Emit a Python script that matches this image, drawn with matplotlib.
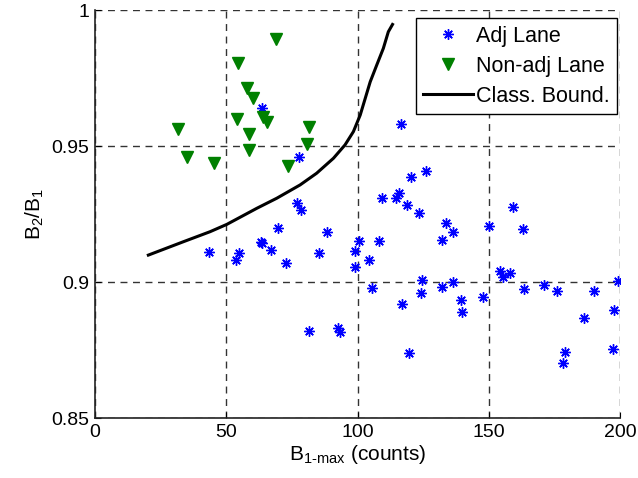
import numpy as np
import matplotlib
matplotlib.use('Agg')
import matplotlib.pyplot as plt

# adjacent lane samples (B1-max, B2/B1)
adj_x = [63.5, 116.5, 77.8, 126.1, 120.4, 109.2, 114.5, 115.9, 118.7, 123.5,
         77.1, 78.3, 133.5, 136.3, 132.2, 150.2, 159.1, 162.9, 154.3, 155.3,
         158.1, 163.2, 171.0, 175.9, 190.2, 199.0, 186.4, 197.5, 179.0, 178.4,
         197.1, 124.5, 124.1, 132.2, 136.3, 139.4, 139.9, 147.9, 116.8, 119.6,
         43.4, 55.0, 53.7, 63.2, 63.7, 69.5, 67.0, 72.6, 88.5, 85.3,
         100.7, 99.0, 99.0, 104.4, 108.3, 105.6, 81.5, 92.7, 93.3]
adj_y = [0.964, 0.958, 0.946, 0.941, 0.9387, 0.931, 0.931, 0.9328, 0.9285, 0.9254,
         0.9289, 0.9266, 0.9217, 0.9185, 0.9153, 0.9206, 0.9275, 0.9194, 0.9042, 0.902,
         0.9032, 0.8973, 0.8988, 0.8968, 0.8968, 0.9005, 0.8869, 0.8897, 0.8744, 0.8701,
         0.8753, 0.9008, 0.896, 0.8983, 0.9, 0.8934, 0.8891, 0.8946, 0.8919, 0.8738,
         0.9109, 0.9105, 0.9081, 0.9148, 0.9142, 0.9197, 0.9118, 0.9069, 0.9185, 0.9105,
         0.9152, 0.9113, 0.9056, 0.9082, 0.9151, 0.8978, 0.882, 0.883, 0.8815]

# non-adjacent lane samples
nonadj_x = [69.0, 54.6, 57.8, 60.3, 54.0, 63.9, 65.4, 58.8, 81.5, 31.7,
            80.6, 58.8, 35.2, 45.3, 73.6]
nonadj_y = [0.9893, 0.9804, 0.9712, 0.9675, 0.960, 0.9608, 0.9589, 0.9544, 0.9571, 0.9561,
            0.9507, 0.9485, 0.9458, 0.9436, 0.9428]

# classification boundary
bound_x = [20.3, 33.6, 43.8, 50.2, 61.6, 69.2, 78.1, 84.4, 90.8, 95.2,
           98.4, 101.0, 102.9, 104.8, 107.3, 109.8, 111.7, 113.3]
bound_y = [0.9099, 0.9148, 0.9185, 0.9212, 0.9271, 0.9308, 0.9357, 0.940, 0.9455, 0.9504,
           0.9553, 0.9614, 0.9675, 0.9736, 0.9798, 0.9859, 0.992, 0.9947]

plt.rcParams['font.family'] = ['Liberation Sans', 'DejaVu Sans']
plt.rcParams['mathtext.fontset'] = 'custom'
plt.rcParams['mathtext.rm'] = 'Liberation Sans'
plt.rcParams['mathtext.it'] = 'Liberation Sans'
plt.rcParams['mathtext.default'] = 'regular'

fig = plt.figure(figsize=(6.38, 4.78), dpi=100)
ax = fig.add_axes([0.149, 0.1255, 0.823, 0.8535])

ax.plot(adj_x, adj_y, linestyle='none', marker=(8, 2, 0), markersize=7.5,
        markeredgewidth=1.0, color='#0000ff', label='Adj Lane', zorder=3)
ax.plot(nonadj_x, nonadj_y, linestyle='none', marker='v', markersize=9,
        color='#008000', label='Non-adj Lane', zorder=3)
ax.plot(bound_x, bound_y, color='black', linewidth=2.2, label='Class. Bound.', zorder=3)

ax.set_xlim(0, 200)
ax.set_ylim(0.85, 1.0)
ax.set_xticks([0, 50, 100, 150, 200])
ax.set_yticks([0.85, 0.9, 0.95, 1.0])
ax.set_yticklabels(['0.85', '0.9', '0.95', '1'])
ax.grid(True, linestyle=(0, (5, 4)), color='#333333', linewidth=1.0)
ax.set_axisbelow(True)
for side in ['top', 'right']:
    ax.spines[side].set_visible(False)
for side in ['left', 'bottom']:
    ax.spines[side].set_linewidth(1.2)
    ax.spines[side].set_color('#222222')
ax.tick_params(direction='in', length=4, labelsize=14, pad=4)

ax.set_xlabel(r'B$_{1\text{-}max}$ (counts)', fontsize=15, labelpad=2)
ax.set_ylabel(r'B$_2$/B$_1$', fontsize=15, labelpad=4)

leg = ax.legend(loc='upper right', bbox_to_anchor=(0.9943, 0.980), borderaxespad=0,
                fontsize=15.5, frameon=True, fancybox=False,
                edgecolor='black', framealpha=1.0,
                handlelength=2.3, handletextpad=0.15, labelspacing=0.42, borderpad=0.35)
leg.get_frame().set_linewidth(1.0)

fig.savefig('out.png', dpi=100)
